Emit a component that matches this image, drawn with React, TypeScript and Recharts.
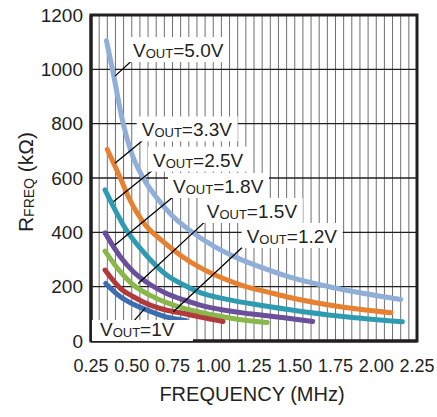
import React from 'react';
import { LineChart, Line, XAxis, YAxis, CartesianGrid, ReferenceLine, ReferenceDot, ReferenceArea } from 'recharts';

const FONT = '"Liberation Sans", Arial, Helvetica, sans-serif';
const INK = '#231f20';

// frequency (MHz) / R_FREQ (kOhm), one pair of arrays per VOUT curve
const F_50 = [0.345, 0.39, 0.44, 0.5, 0.57, 0.65, 0.75, 0.85, 1.0, 1.15, 1.3, 1.47, 1.75, 2.15];
const R_50 = [1105, 975, 820, 690, 600, 530, 460, 410, 350, 305, 270, 235, 195, 153];

const F_33 = [0.35, 0.43, 0.48, 0.58, 0.68, 0.8, 0.92, 1.07, 1.2, 1.33, 1.47, 1.78, 2.09];
const R_33 = [705, 600, 530, 430, 372, 315, 270, 228, 200, 181, 160, 126, 104];

const F_25 = [0.336, 0.4, 0.46, 0.58, 0.71, 0.82, 0.92, 1.07, 1.225, 1.47, 1.78, 2.16];
const R_25 = [556, 480, 415, 322, 245, 206, 178, 155, 138, 115, 91, 71];

const F_18 = [0.336, 0.43, 0.51, 0.61, 0.71, 0.82, 0.92, 1.07, 1.225, 1.47, 1.61];
const R_18 = [398, 310, 255, 209, 176, 151, 132, 113, 100, 83, 72];

const F_15 = [0.336, 0.43, 0.51, 0.61, 0.71, 0.82, 0.92, 1.12, 1.33];
const R_15 = [331, 255, 206, 169, 142, 120, 106, 83, 68];

const F_12 = [0.336, 0.43, 0.51, 0.61, 0.71, 0.82, 0.92, 1.06];
const R_12 = [261, 194, 163, 133, 114, 101, 88, 72];

const F_10 = [0.34, 0.43, 0.51, 0.61, 0.71, 0.83];
const R_10 = [212, 163, 135, 110, 89, 76];

const Y_TICKS = [0, 200, 400, 600, 800, 1000, 1200];
const X_LABELS = ['0.25', '0.50', '0.75', '1.00', '1.25', '1.50', '1.75', '2.00', '2.25'];
// fine vertical grid every 0.05 MHz
const X_GRID = Array.from({ length: 41 }, (_, i) => Math.round((0.25 + i * 0.05) * 100) / 100);

const pts = (f: number[], r: number[]) => f.map((v, i) => ({ f: v, r: r[i] }));

const SERIES = [
  { name: '5.0V', data: pts(F_50, R_50), color: '#8fafd9' },
  { name: '3.3V', data: pts(F_33, R_33), color: '#e6812f' },
  { name: '2.5V', data: pts(F_25, R_25), color: '#2f9bb1' },
  { name: '1.8V', data: pts(F_18, R_18), color: '#6a4f9b' },
  { name: '1.5V', data: pts(F_15, R_15), color: '#8ab74c' },
  { name: '1.2V', data: pts(F_12, R_12), color: '#b13a3d' },
  { name: '1V', data: pts(F_10, R_10), color: '#3b6eb1' },
];

// label anchor (left/baseline) and leader line, in data units
const NOTES = [
  { text: '5.0V', f: 0.508, r: 1045, line: [[0.52, 1043], [0.397, 975]], box: [5, 20, 101, 25] },
  { text: '3.3V', f: 0.561, r: 753, line: [[0.571, 740], [0.397, 654]], box: [5, 20, 101, 25] },
  { text: '2.5V', f: 0.63, r: 642, line: [[0.643, 636], [0.387, 513]], box: [5, 20, 101, 25] },
  { text: '1.8V', f: 0.753, r: 545, line: [[0.755, 531], [0.397, 353]], box: [5, 20, 101, 25] },
  { text: '1.5V', f: 0.96, r: 453, line: [[0.96, 445], [0.54, 212]], box: [5, 20, 101, 25] },
  { text: '1.2V', f: 1.205, r: 361, line: [[1.205, 360], [0.755, 108]], box: [5, 20, 101, 25] },
  { text: '1V', f: 0.305, r: 16.6, line: [[0.5, 65], [0.581, 120]], box: [8, 16.5, 101, 21] },
];

const NoteLabel = (props: any) => {
  const { cx, cy, note } = props;
  const [padL, up, w, h] = note.box;
  return (
    <g>
      <rect x={cx - padL} y={cy - up} width={w} height={h} fill="#ffffff" />
      <text x={cx} y={cy} fill={INK} fontFamily={FONT} fontSize={19}>
        <tspan>V</tspan>
        <tspan fontSize={13} dy={1}>OUT</tspan>
        <tspan dy={-1}>={note.text}</tspan>
      </text>
    </g>
  );
};

const YTitle = (props: any) => {
  const vb = props.viewBox || {};
  const cx = 25;
  const cy = (vb.y || 15) + (vb.height || 326) / 2 + 4;
  return (
    <text x={cx} y={cy} transform={`rotate(-90, ${cx}, ${cy})`} textAnchor="middle" fill={INK} fontFamily={FONT} fontSize={21} dominantBaseline="central">
      <tspan>R</tspan>
      <tspan fontSize={14} dy={4}>FREQ</tspan>
      <tspan dy={-4}> (kΩ)</tspan>
    </text>
  );
};

const XTitle = (props: any) => {
  const vb = props.viewBox || {};
  const cx = (vb.x || 91) + (vb.width || 326) / 2 - 2;
  return (
    <text x={cx} y={401} textAnchor="middle" fill={INK} fontFamily={FONT} fontSize={20}>
      FREQUENCY (MHz)
    </text>
  );
};

const fmtX = (v: number) => {
  const s = v.toFixed(2);
  return X_LABELS.includes(s) ? s : '';
};

export default function App() {
  return (
    <div style={{ position: 'absolute', left: 0, top: 0, background: '#ffffff' }}>
      <LineChart width={437} height={417} margin={{ top: 15, right: 20, bottom: 0, left: 0 }}>
        <CartesianGrid horizontal={false} stroke="#6f6f6f" strokeWidth={1} />
        <CartesianGrid vertical={false} stroke={INK} strokeWidth={1.4} />
        <XAxis
          type="number"
          dataKey="f"
          domain={[0.25, 2.25]}
          ticks={X_GRID}
          interval={0}
          tickFormatter={fmtX}
          tickLine={false}
          tickMargin={12}
          axisLine={{ stroke: INK, strokeWidth: 3 }}
          tick={{ fill: INK, fontFamily: FONT, fontSize: 18 }}
          height={76}
          allowDataOverflow
          label={{ content: <XTitle /> }}
        />
        <YAxis
          type="number"
          domain={[0, 1200]}
          ticks={Y_TICKS}
          interval={0}
          tickLine={false}
          axisLine={{ stroke: INK, strokeWidth: 3 }}
          tick={{ fill: INK, fontFamily: FONT, fontSize: 19 }}
          width={91}
          allowDataOverflow
          label={{ content: <YTitle /> }}
        />
        {SERIES.map((s) => (
          <Line
            key={s.name}
            data={s.data}
            dataKey="r"
            type="monotone"
            stroke={s.color}
            strokeWidth={5}
            strokeLinecap="round"
            dot={false}
            activeDot={false}
            isAnimationActive={false}
          />
        ))}
        {NOTES.map((n) => (
          <ReferenceDot
            key={'box' + n.text}
            x={n.f}
            y={n.r}
            r={0}
            ifOverflow="visible"
            shape={(p: any) => <NoteLabel {...p} note={n} />}
          />
        ))}
        {NOTES.map((n) => (
          <ReferenceLine
            key={'lead' + n.text}
            segment={[{ x: n.line[0][0], y: n.line[0][1] }, { x: n.line[1][0], y: n.line[1][1] }]}
            stroke="#000000"
            strokeWidth={1.3}
            ifOverflow="visible"
          />
        ))}
        <ReferenceArea x1={0.25} x2={2.25} y1={0} y2={1200} fill="none" stroke={INK} strokeWidth={3} />
      </LineChart>
    </div>
  );
}
